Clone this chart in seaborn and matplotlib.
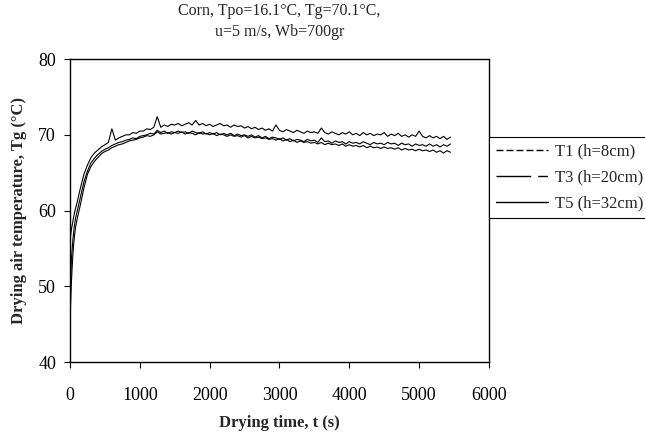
import matplotlib
matplotlib.use("Agg")
import matplotlib.pyplot as plt
from matplotlib.lines import Line2D
import seaborn as sns
import pandas as pd

time_s = [0, 10, 20, 40, 60, 80, 100, 150, 200, 250, 300, 350, 400, 450,
          500, 550, 600, 650, 700, 750, 800, 850, 900, 950,
          1000, 1050, 1100, 1150, 1200, 1250, 1300, 1350, 1400, 1450,
          1500, 1550, 1600, 1650, 1700, 1750, 1800, 1850, 1900, 1950,
          2000, 2050, 2100, 2150, 2200, 2250, 2300, 2350, 2400, 2450,
          2500, 2550, 2600, 2650, 2700, 2750, 2800, 2850, 2900, 2950,
          3000, 3050, 3100, 3150, 3200, 3250, 3300, 3350, 3400, 3450,
          3500, 3550, 3600, 3650, 3700, 3750, 3800, 3850, 3900, 3950,
          4000, 4050, 4100, 4150, 4200, 4250, 4300, 4350, 4400, 4450,
          4500, 4550, 4600, 4650, 4700, 4750, 4800, 4850, 4900, 4950,
          5000, 5050, 5100, 5150, 5200, 5250, 5300, 5350, 5400, 5450]

T1 = [56.0, 56.8, 57.5, 58.5, 59.5, 60.3, 61.0, 63.0, 64.8, 66.0, 67.0, 67.6, 68.0, 68.4,
      68.7, 69.0, 70.8, 69.3, 69.6, 69.8, 70.0, 70.0, 70.3, 70.2,
      70.5, 70.5, 70.8, 70.7, 71.0, 72.4, 71.0, 71.3, 71.1, 71.4,
      71.3, 71.5, 71.2, 71.4, 71.6, 71.3, 71.9, 71.3, 71.5, 71.2,
      71.4, 71.1, 71.3, 71.5, 71.2, 71.3, 71.0, 71.3, 71.1, 71.2,
      70.9, 71.1, 70.8, 71.0, 70.7, 70.9, 70.6, 70.8, 70.5, 71.3,
      70.6, 70.4, 70.7, 70.5, 70.3, 70.6, 70.4, 70.2, 70.5, 70.3,
      70.4, 70.2, 70.9, 70.3, 70.1, 70.4, 70.2, 70.0, 70.3, 70.1,
      70.4, 70.0, 70.2, 69.9, 70.3, 70.0, 70.2, 69.9, 70.1, 70.0,
      70.3, 69.8, 70.1, 69.9, 70.2, 69.8, 70.0, 69.7, 70.0, 69.8,
      70.5, 69.8, 69.6, 69.9, 69.6, 69.8, 69.5, 69.8, 69.4, 69.7]

T3 = [47.0, 51.0, 53.5, 56.0, 57.8, 59.0, 59.8, 61.8, 63.8, 65.2, 66.3, 66.9, 67.4, 67.8,
      68.1, 68.3, 68.6, 68.8, 69.0, 69.1, 69.3, 69.4, 69.6, 69.5,
      69.8, 69.9, 70.0, 70.2, 70.1, 70.6, 70.3, 70.5, 70.2, 70.4,
      70.3, 70.5, 70.3, 70.4, 70.2, 70.5, 70.3, 70.2, 70.4, 70.1,
      70.3, 70.1, 70.3, 70.0, 70.2, 70.0, 70.2, 69.9, 70.1, 69.9,
      70.0, 69.8, 70.0, 69.7, 69.9, 69.6, 69.8, 69.5, 69.7, 69.6,
      69.4, 69.6, 69.3, 69.5, 69.2, 69.4, 69.3, 69.1, 69.4, 69.2,
      69.3, 69.0, 69.6, 69.1, 69.2, 68.9, 69.2, 69.0, 69.1, 68.8,
      69.1, 68.9, 69.0, 68.8, 69.1, 68.9, 68.7, 69.0, 68.8, 68.9,
      68.7, 69.0, 68.8, 68.9, 68.6, 68.9, 68.7, 68.8, 68.5, 68.8,
      68.6, 68.7, 68.5, 68.8, 68.5, 68.7, 68.4, 68.7, 68.5, 68.8]

T5 = [45.0, 48.0, 50.5, 54.0, 56.3, 57.8, 58.8, 60.8, 63.0, 64.8, 65.8, 66.5, 67.0, 67.5,
      67.8, 68.0, 68.3, 68.5, 68.7, 68.8, 69.0, 69.2, 69.3, 69.4,
      69.6, 69.7, 69.9, 69.8, 70.0, 70.4, 70.1, 70.2, 70.3, 70.1,
      70.3, 70.2, 70.4, 70.1, 70.3, 70.2, 70.0, 70.3, 70.1, 70.2,
      70.0, 70.2, 69.9, 70.1, 70.0, 69.8, 70.0, 69.8, 69.9, 69.7,
      69.9, 69.6, 69.8, 69.6, 69.7, 69.5, 69.6, 69.4, 69.5, 69.3,
      69.5, 69.2, 69.4, 69.1, 69.3, 69.0, 69.2, 69.0, 69.1, 68.9,
      69.0, 68.8, 69.0, 68.7, 68.9, 68.7, 68.8, 68.6, 68.8, 68.5,
      68.7, 68.5, 68.6, 68.4, 68.6, 68.3, 68.5, 68.3, 68.4, 68.2,
      68.4, 68.2, 68.3, 68.1, 68.3, 68.0, 68.2, 68.0, 68.1, 67.9,
      68.1, 67.9, 68.0, 67.8, 68.0, 67.7, 67.9, 67.6, 67.9, 67.7]

series_labels = ["T1 (h=8cm)", "T3 (h=20cm)", "T5 (h=32cm)"]
x_ticks = [0, 1000, 2000, 3000, 4000, 5000, 6000]
y_ticks = [40, 50, 60, 70, 80]

sns.set_style("ticks")
plt.rcParams['font.family'] = ['Liberation Serif', 'DejaVu Serif']

df = pd.concat([
    pd.DataFrame({"t": time_s, "T": vals, "series": lab})
    for vals, lab in zip([T1, T3, T5], series_labels)
])

fig = plt.figure(figsize=(6.45, 4.38), dpi=100)
ax = fig.add_axes([0.1085, 0.1735, 0.6495, 0.6915])

for lab in series_labels:
    sub = df[df["series"] == lab]
    sns.lineplot(data=sub, x="t", y="T", ax=ax, color="black", lw=0.8,
                 legend=False, estimator=None, sort=False)

ax.set_xlim(0, 6000)
ax.set_ylim(40, 80)
ax.set_xticks(x_ticks)
ax.set_yticks(y_ticks)
ax.tick_params(axis='both', labelsize=13, direction='out', length=4,
               width=0.8, colors='black')
ax.tick_params(axis='x', pad=14)
ax.tick_params(axis='y', pad=6)
for s in ax.spines.values():
    s.set_visible(True)
    s.set_color('black')
    s.set_linewidth(1.0)

ax.set_xlabel("Drying time, t (s)", fontsize=12, fontweight='bold', labelpad=8)
ax.set_ylabel("Drying air temperature, Tg (°C)", fontsize=12, fontweight='bold', labelpad=8)
ax.set_title("Corn, Tpo=16.1°C, Tg=70.1°C,\nu=5 m/s, Wb=700gr", fontsize=11.5, pad=17,
             linespacing=1.4)

styles = [(0, (5, 2.2)), (0, (25, 5, 7, 10)), '-']
handles = [Line2D([0], [0], color='black', lw=1.0, linestyle=st) for st in styles]
leg = ax.legend(handles, series_labels, loc='upper left', bbox_to_anchor=(1.0, 0.7426),
                borderaxespad=0, frameon=True, fancybox=False, framealpha=1,
                edgecolor='black', fontsize=12, handlelength=3.15,
                handletextpad=0.4, labelspacing=0.6, borderpad=0.4)
leg.get_frame().set_linewidth(0.8)

fig.savefig("out.png", dpi=100)
